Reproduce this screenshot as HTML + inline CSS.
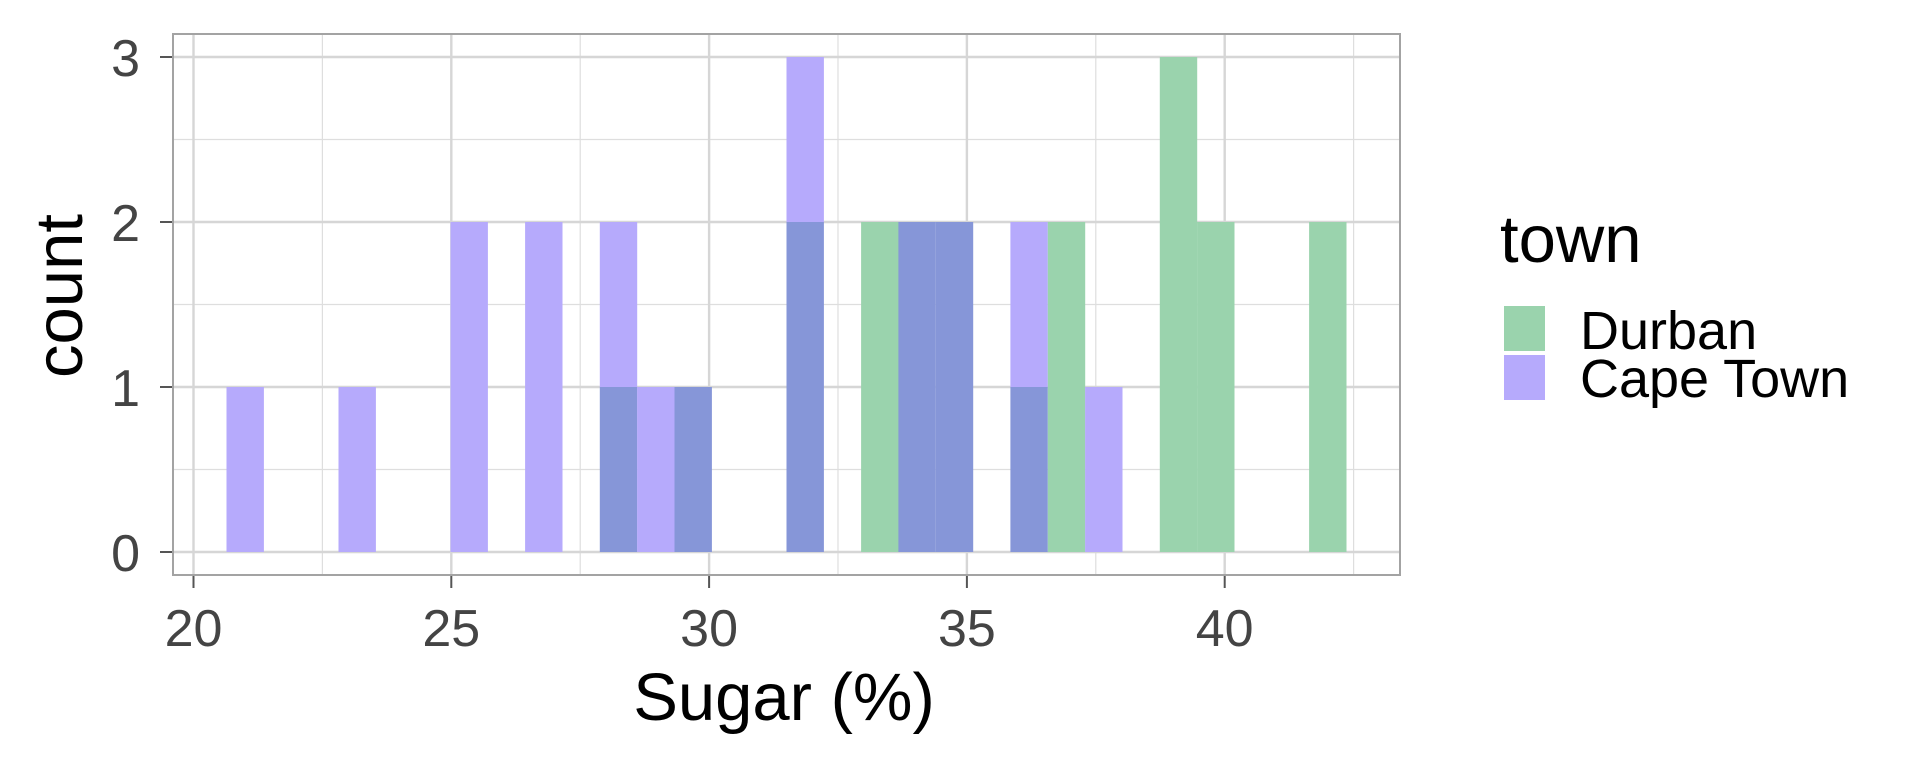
<!DOCTYPE html>
<html><head><meta charset="utf-8"><style>body{margin:0;background:#fff}svg{display:block}</style></head>
<body>
<svg width="1920" height="768" xmlns="http://www.w3.org/2000/svg" font-family="Liberation Sans, sans-serif">
<rect width="1920" height="768" fill="#fff"/>
<g stroke="#DEDEDE" stroke-width="1.2">
<line x1="173" x2="1400" y1="469.5" y2="469.5"/><line x1="173" x2="1400" y1="304.5" y2="304.5"/><line x1="173" x2="1400" y1="139.5" y2="139.5"/>
<line y1="34" y2="575" x1="322.4" x2="322.4"/><line y1="34" y2="575" x1="580.2" x2="580.2"/><line y1="34" y2="575" x1="838" x2="838"/><line y1="34" y2="575" x1="1095.8" x2="1095.8"/><line y1="34" y2="575" x1="1353.6" x2="1353.6"/>
</g>
<g stroke="#D6D6D6" stroke-width="2.4">
<line x1="173" x2="1400" y1="552" y2="552"/><line x1="173" x2="1400" y1="387" y2="387"/><line x1="173" x2="1400" y1="222" y2="222"/><line x1="173" x2="1400" y1="57" y2="57"/>
<line y1="34" y2="575" x1="193.5" x2="193.5"/><line y1="34" y2="575" x1="451.3" x2="451.3"/><line y1="34" y2="575" x1="709.1" x2="709.1"/><line y1="34" y2="575" x1="966.9" x2="966.9"/><line y1="34" y2="575" x1="1224.7" x2="1224.7"/>
</g>
<g>
<rect x="226.5" y="387" width="37.4" height="165" fill="#B6AAFC"/>
<rect x="338.5" y="387" width="37.4" height="165" fill="#B6AAFC"/>
<rect x="450.5" y="222" width="37.4" height="330" fill="#B6AAFC"/>
<rect x="525.1" y="222" width="37.4" height="330" fill="#B6AAFC"/>
<rect x="599.8" y="387" width="37.4" height="165" fill="#8696D8"/>
<rect x="599.8" y="222" width="37.4" height="165" fill="#B6AAFC"/>
<rect x="637.1" y="387" width="37.4" height="165" fill="#B6AAFC"/>
<rect x="674.5" y="387" width="37.4" height="165" fill="#8696D8"/>
<rect x="786.5" y="222" width="37.4" height="330" fill="#8696D8"/>
<rect x="786.5" y="57" width="37.4" height="165" fill="#B6AAFC"/>
<rect x="861.1" y="222" width="37.4" height="330" fill="#9AD3AD"/>
<rect x="898.4" y="222" width="37.4" height="330" fill="#8696D8"/>
<rect x="935.8" y="222" width="37.4" height="330" fill="#8696D8"/>
<rect x="1010.4" y="387" width="37.4" height="165" fill="#8696D8"/>
<rect x="1010.4" y="222" width="37.4" height="165" fill="#B6AAFC"/>
<rect x="1047.8" y="222" width="37.4" height="330" fill="#9AD3AD"/>
<rect x="1085.1" y="387" width="37.4" height="165" fill="#B6AAFC"/>
<rect x="1159.8" y="57" width="37.4" height="495" fill="#9AD3AD"/>
<rect x="1197.1" y="222" width="37.4" height="330" fill="#9AD3AD"/>
<rect x="1309.1" y="222" width="37.4" height="330" fill="#9AD3AD"/>
</g>
<rect x="173" y="34" width="1227" height="541" fill="none" stroke="#A3A3A3" stroke-width="2"/>
<g stroke="#555" stroke-width="2">
<line x1="193.5" x2="193.5" y1="576" y2="588"/><line x1="451.3" x2="451.3" y1="576" y2="588"/><line x1="709.1" x2="709.1" y1="576" y2="588"/><line x1="966.9" x2="966.9" y1="576" y2="588"/><line x1="1224.7" x2="1224.7" y1="576" y2="588"/>
<line x1="160" x2="172" y1="552" y2="552"/><line x1="160" x2="172" y1="387" y2="387"/><line x1="160" x2="172" y1="222" y2="222"/><line x1="160" x2="172" y1="57" y2="57"/>
</g>
<g font-size="52" fill="#444" text-anchor="end">
<text x="140" y="571">0</text><text x="140" y="406">1</text><text x="140" y="241">2</text><text x="140" y="76">3</text>
</g>
<g font-size="52" fill="#444" text-anchor="middle">
<text x="193.5" y="646">20</text><text x="451.3" y="646">25</text><text x="709.1" y="646">30</text><text x="966.9" y="646">35</text><text x="1224.7" y="646">40</text>
</g>
<text x="784" y="720" font-size="67" text-anchor="middle" fill="#000">Sugar (%)</text>
<text transform="translate(82,296) rotate(-90)" font-size="67" text-anchor="middle" fill="#000">count</text>
<text x="1500" y="262" font-size="67" fill="#000">town</text>
<rect x="1504" y="306" width="41" height="45" fill="#9AD3AD"/>
<rect x="1504" y="355" width="41" height="45" fill="#B6AAFC"/>
<text x="1580" y="349" font-size="54" fill="#000">Durban</text>
<text x="1580" y="397" font-size="54" fill="#000">Cape Town</text>
</svg>
</body></html>
